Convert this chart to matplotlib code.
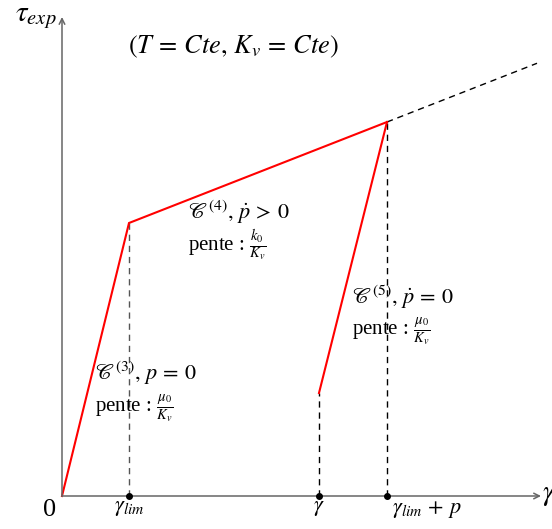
import numpy as np
import matplotlib
matplotlib.use('Agg')
import matplotlib.pyplot as plt

plt.rcParams['font.family'] = 'serif'
plt.rcParams['font.serif'] = ['Liberation Serif', 'DejaVu Serif']
plt.rcParams['mathtext.fontset'] = 'stix'

# key strains (x) and stresses (y), arbitrary units
gamma_lim = 6.7
gamma_cur = 25.7
gamma_lim_p = 32.5
tau_lim = 27.3
tau_peak = 37.4
tau_unload = 10.3
gamma_ext = 47.5

# red path: loading C3, hardening C4
load_x = [0, gamma_lim, gamma_lim_p]
load_y = [0, tau_lim, tau_peak]
# unloading C5
unload_x = [gamma_cur, gamma_lim_p]
unload_y = [tau_unload, tau_peak]

tick_x = [gamma_lim, gamma_cur, gamma_lim_p]
tick_labels = [r'$\gamma_{lim}$', r'$\gamma$', r'$\gamma_{lim}\,+\,p$']

fig = plt.figure(figsize=(5.52, 5.29), dpi=100)
ax = fig.add_axes([0, 0, 1, 1])
ax.set_xlim(-6.2, 49.0)
ax.set_ylim(-3.3, 49.6)
ax.axis('off')

axis_col = '#666666'
# axes with arrows
ax.annotate('', xy=(47.9, 0), xytext=(0, 0),
            arrowprops=dict(arrowstyle='->', color=axis_col, lw=1.1, shrinkA=0, shrinkB=0))
ax.annotate('', xy=(0, 47.9), xytext=(0, 0),
            arrowprops=dict(arrowstyle='->', color=axis_col, lw=1.1, shrinkA=0, shrinkB=0))

dash = (0, (4.5, 3.5))
# dashed extension of hardening slope
slope = (tau_peak - tau_lim) / (gamma_lim_p - gamma_lim)
ax.plot([gamma_lim_p, gamma_ext], [tau_peak, tau_peak + slope * (gamma_ext - gamma_lim_p)],
        color='black', lw=1.0, ls=dash)

# vertical dashed guides
ax.plot([gamma_lim, gamma_lim], [0, tau_lim], color='#555555', lw=1.0, ls=dash)
ax.plot([gamma_cur, gamma_cur], [0, tau_unload], color='black', lw=1.0, ls=dash)
ax.plot([gamma_lim_p, gamma_lim_p], [0, tau_peak], color='black', lw=1.0, ls=dash)

ax.plot(load_x, load_y, color='red', lw=1.5, solid_joinstyle='miter')
ax.plot(unload_x, unload_y, color='red', lw=1.5)

ax.plot(tick_x, [0] * 3, 'o', color='black', ms=4, zorder=5)

fs = 15
for x, lab in zip(tick_x, tick_labels):
    ha = 'left' if lab == tick_labels[2] else 'center'
    xx = x + 0.5 if ha == 'left' else x
    ax.text(xx, -0.3, lab, ha=ha, va='top', fontsize=16)
ax.text(-1.2, -0.3, '0', ha='center', va='top', fontsize=19)
ax.text(48.0, 0.1, r'$\gamma$', ha='left', va='center', fontsize=21)
ax.text(-2.6, 47.8, r'$\tau_{exp}$', ha='center', va='center', fontsize=21)

ax.text(17.1, 44.9, r'$(T\,=\,Cte,\,K_v\,=\,Cte)$', ha='center', va='center', fontsize=19)

ax.text(12.6, 28.4, r'$\mathscr{C}^{(4)},\,\dot{p}\,>\,0$', ha='left', va='center', fontsize=16)
ax.text(12.6, 25.1, r'pente : $\frac{k_0}{K_v}$', ha='left', va='center', fontsize=fs)
ax.text(3.3, 12.3, r'$\mathscr{C}^{(3)},\,p\,=\,0$', ha='left', va='center', fontsize=16)
ax.text(3.3, 8.7, r'pente : $\frac{\mu_0}{K_v}$', ha='left', va='center', fontsize=fs)
ax.text(29.0, 19.9, r'$\mathscr{C}^{(5)},\,\dot{p}\,=\,0$', ha='left', va='center', fontsize=16)
ax.text(29.0, 16.4, r'pente : $\frac{\mu_0}{K_v}$', ha='left', va='center', fontsize=fs)

fig.savefig('out.png', dpi=100)
